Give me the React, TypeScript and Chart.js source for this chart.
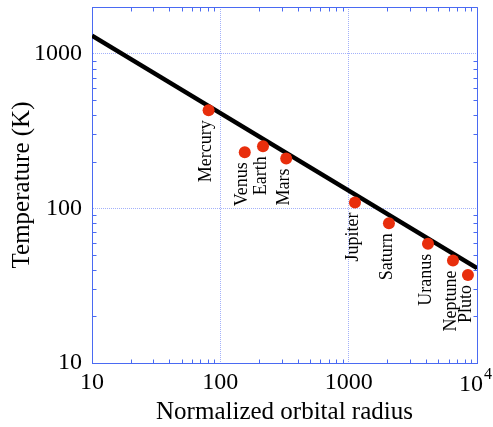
import { useEffect, useRef } from "react";
import { Chart, registerables } from "chart.js";

Chart.register(...registerables);

// Planets: orbital radius in units of the solar radius, temperature in kelvin
const planetNames = ["Mercury", "Venus", "Earth", "Mars", "Jupiter", "Saturn", "Uranus", "Neptune", "Pluto"];
const orbitalRadius = [81, 155, 215, 326, 1120, 2060, 4150, 6500, 8500];
const temperature = [430, 230, 252, 210, 109, 80, 59, 46, 37];

// Fitted power law T ∝ r^-1/2, evaluated at the ends of the x range
const fitRadius = [10, 10000];
const fitTemperature = [1306, 41];

// Decade ticks
const xTickValues = [10, 100, 1000, 10000];
const yTickValues = [10, 100, 1000];

const SERIF = "'Liberation Serif', 'Times New Roman', serif";
const AXIS_BLUE = "#4a6af2";
const GRID_BLUE = "#a3b1fa";
const DOT_RED = "rgb(232, 46, 12)";

const frameAndMinorTicks = {
  id: "frameAndMinorTicks",
  beforeDatasetsDraw(chart: any) {
    const { ctx, chartArea: a, scales } = chart;
    const xs = scales.x;
    const ys = scales.y;
    const L = Math.round(a.left) + 0.5;
    const R = Math.round(a.right) + 0.5;
    const T = Math.round(a.top) + 0.5;
    const B = Math.round(a.bottom) + 0.5;
    ctx.save();
    ctx.strokeStyle = AXIS_BLUE;
    ctx.lineWidth = 1;
    ctx.beginPath();
    ctx.moveTo(L, T);
    ctx.lineTo(R, T);
    ctx.lineTo(R, B);
    for (let d = 10; d < 10000; d *= 10) {
      for (let m = 2; m <= 9; m++) {
        const px = Math.round(xs.getPixelForValue(d * m)) + 0.5;
        ctx.moveTo(px, B);
        ctx.lineTo(px, B - 4);
        ctx.moveTo(px, T);
        ctx.lineTo(px, T + 4);
      }
    }
    for (let d = 10; d < 2000; d *= 10) {
      for (let m = 2; m <= 9; m++) {
        const v = d * m;
        if (v >= 2000) break;
        const py = Math.round(ys.getPixelForValue(v)) + 0.5;
        ctx.moveTo(L, py);
        ctx.lineTo(L + 4, py);
        ctx.moveTo(R, py);
        ctx.lineTo(R - 4, py);
      }
    }
    ctx.stroke();
    ctx.restore();
  },
  afterDatasetsDraw(chart: any) {
    const { ctx, scales } = chart;
    const xs = scales.x;
    const ys = scales.y;
    ctx.save();
    ctx.fillStyle = "#000";

    // planet names, rotated, hanging below each point
    ctx.font = `18px ${SERIF}`;
    ctx.textAlign = "right";
    ctx.textBaseline = "middle";
    planetNames.forEach((name, i) => {
      const px = xs.getPixelForValue(orbitalRadius[i]);
      const py = ys.getPixelForValue(temperature[i]);
      ctx.save();
      ctx.translate(px - 2, py + 10);
      ctx.rotate(-Math.PI / 2);
      ctx.fillText(name, 0, 0);
      ctx.restore();
    });

    // "10^4" label at the right end of the x axis
    const tx = xs.getPixelForValue(10000);
    const baseY = xs.top + 5 + 14.4 + 8.1;
    ctx.textAlign = "left";
    ctx.textBaseline = "alphabetic";
    ctx.font = `24px ${SERIF}`;
    const wBase = ctx.measureText("10").width;
    ctx.font = `16px ${SERIF}`;
    const wExp = ctx.measureText("4").width;
    const x0 = tx - (wBase + wExp) / 2 - 2;
    ctx.font = `24px ${SERIF}`;
    ctx.fillText("10", x0, baseY);
    ctx.font = `16px ${SERIF}`;
    ctx.fillText("4", x0 + wBase + 1, baseY - 11.5);
    ctx.restore();
  },
};

export default function App() {
  const canvasRef = useRef<HTMLCanvasElement>(null);

  useEffect(() => {
    const canvas = canvasRef.current;
    if (!canvas) return;

    const chart = new Chart(canvas, {
      type: "scatter",
      data: {
        datasets: [
          {
            label: "Planets",
            data: orbitalRadius.map((r, i) => ({ x: r, y: temperature[i] })),
            backgroundColor: DOT_RED,
            borderWidth: 0,
            pointRadius: 6,
            order: 0,
          },
          {
            label: "Power law",
            data: fitRadius.map((r, i) => ({ x: r, y: fitTemperature[i] })),
            showLine: true,
            borderColor: "#000",
            borderWidth: 4.5,
            pointRadius: 0,
            order: 1,
          },
        ],
      },
      options: {
        responsive: false,
        animation: false,
        devicePixelRatio: 1,
        layout: { padding: { left: 0, right: 16, top: 7, bottom: 0 } },
        plugins: {
          legend: { display: false },
          tooltip: { enabled: false },
        },
        scales: {
          x: {
            type: "logarithmic",
            position: "bottom",
            min: 10,
            max: 10000,
            afterBuildTicks: (scale: any) => {
              scale.ticks = xTickValues.map((v) => ({ value: v }));
            },
            afterFit: (scale: any) => {
              scale.height = 64;
              scale.paddingLeft = 0;
              scale.paddingRight = 0;
            },
            ticks: {
              autoSkip: false,
              maxRotation: 0,
              padding: 5,
              color: "#000",
              font: { family: SERIF, size: 24 },
              callback: (v: any) => (Number(v) === 10000 ? "" : String(v)),
            },
            grid: { color: GRID_BLUE, lineWidth: 1, drawTicks: false },
            border: { display: true, color: AXIS_BLUE, width: 1, dash: [1, 1] },
            title: {
              display: true,
              text: "Normalized orbital radius",
              color: "#000",
              font: { family: SERIF, size: 25 },
              padding: { top: 0, bottom: 0 },
            },
          },
          y: {
            type: "logarithmic",
            position: "left",
            min: 10,
            max: 2000,
            afterBuildTicks: (scale: any) => {
              scale.ticks = yTickValues.map((v) => ({ value: v }));
            },
            afterFit: (scale: any) => {
              scale.width = 92;
              scale.paddingTop = 0;
              scale.paddingBottom = 0;
            },
            ticks: {
              autoSkip: false,
              padding: 10,
              color: "#000",
              font: { family: SERIF, size: 24 },
              callback: (v: any) => String(v),
            },
            grid: { color: GRID_BLUE, lineWidth: 1, drawTicks: false },
            border: { display: true, color: AXIS_BLUE, width: 1, dash: [1, 1] },
            title: {
              display: true,
              text: "Temperature (K)",
              color: "#000",
              font: { family: SERIF, size: 25 },
              padding: { top: 7, bottom: 0 },
            },
          },
        },
      },
      plugins: [frameAndMinorTicks],
    } as any);

    return () => chart.destroy();
  }, []);

  return (
    <div style={{ position: "fixed", left: 0, top: 0, width: 493, height: 427, background: "#fff" }}>
      <canvas ref={canvasRef} width={493} height={427} style={{ display: "block" }} />
    </div>
  );
}
